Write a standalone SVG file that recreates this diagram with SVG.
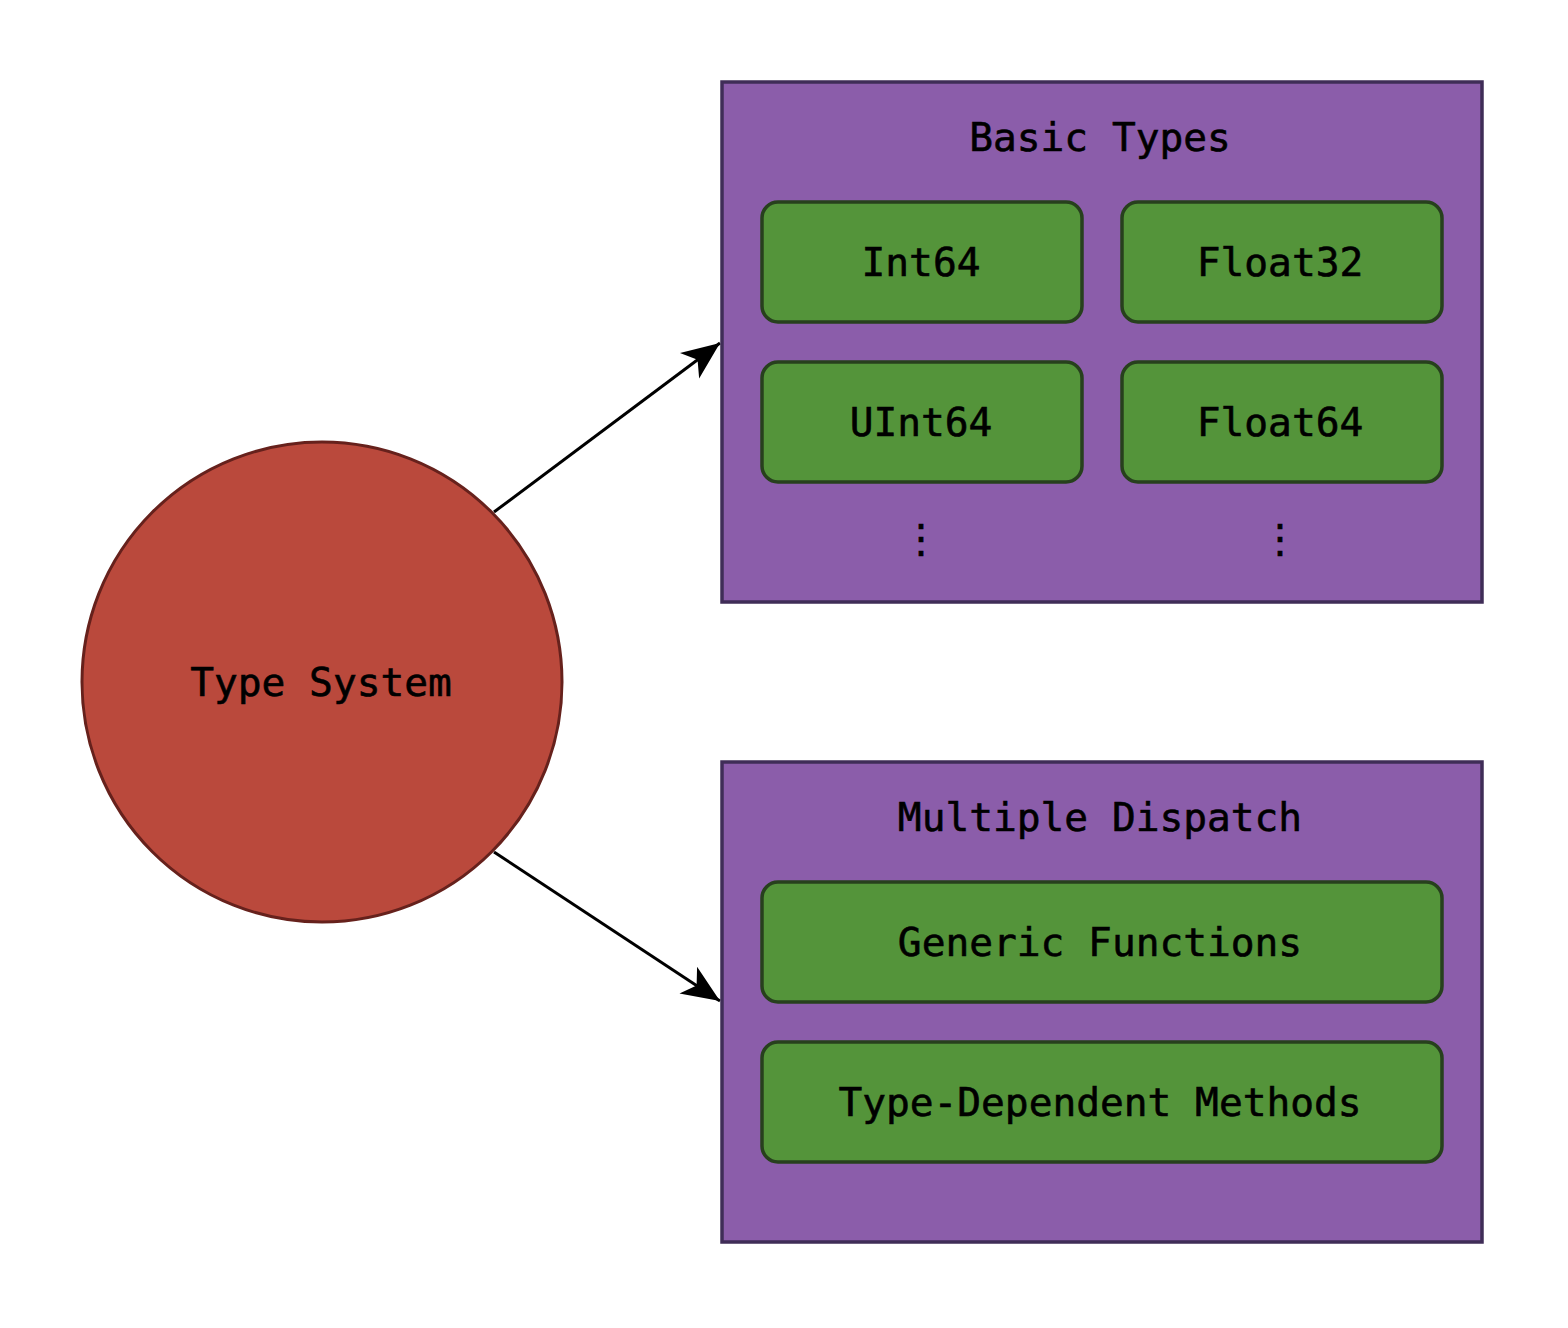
<svg xmlns="http://www.w3.org/2000/svg" width="1568" height="1328" viewBox="0 0 1568 1328">
<style>
text{font-family:"DejaVu Sans Mono","Liberation Mono",monospace;font-size:39.5px;fill:#000;stroke:#000;stroke-width:0.6;text-anchor:middle}
.group{fill:#8B5DAA;stroke:#3F2D57;stroke-width:3.5}
.item{fill:#54943A;stroke:#27401D;stroke-width:3.5}
.edge{stroke:#000;stroke-width:3;fill:none}
</style>
<defs>
<marker id="arr" markerUnits="userSpaceOnUse" markerWidth="50" markerHeight="40" viewBox="-40 -20 44 40" refX="0" refY="0" orient="auto">
<path d="M0,0 L-38,-16 L-28,0 L-38,16 Z" fill="#000"/>
</marker>
</defs>
<rect width="1568" height="1328" fill="#fff"/>
<g id="edges">
<line class="edge" x1="494" y1="512" x2="720" y2="343" marker-end="url(#arr)"/>
<line class="edge" x1="494" y1="852" x2="720" y2="1001" marker-end="url(#arr)"/>
</g>
<g id="type-system">
<circle cx="322" cy="682" r="240" fill="#BA493C" stroke="#66211C" stroke-width="3"/>
<text x="321" y="696">Type System</text>
</g>
<g id="basic-types">
<rect class="group" x="722" y="82" width="760" height="520"/>
<text x="1100" y="151">Basic Types</text>
<g id="int64"><rect class="item" x="762" y="202" width="320" height="120" rx="16"/><text x="921" y="276">Int64</text></g>
<g id="float32"><rect class="item" x="1122" y="202" width="320" height="120" rx="16"/><text x="1280" y="276">Float32</text></g>
<g id="uint64"><rect class="item" x="762" y="362" width="320" height="120" rx="16"/><text x="921" y="436">UInt64</text></g>
<g id="float64"><rect class="item" x="1122" y="362" width="320" height="120" rx="16"/><text x="1280" y="436">Float64</text></g>
<text x="921" y="552">⋮</text>
<text x="1280" y="552">⋮</text>
</g>
<g id="multiple-dispatch">
<rect class="group" x="722" y="762" width="760" height="480"/>
<text x="1100" y="831">Multiple Dispatch</text>
<g id="generic-functions"><rect class="item" x="762" y="882" width="680" height="120" rx="16"/><text x="1100" y="956">Generic Functions</text></g>
<g id="type-dependent-methods"><rect class="item" x="762" y="1042" width="680" height="120" rx="16"/><text x="1100" y="1116">Type-Dependent Methods</text></g>
</g>
</svg>
